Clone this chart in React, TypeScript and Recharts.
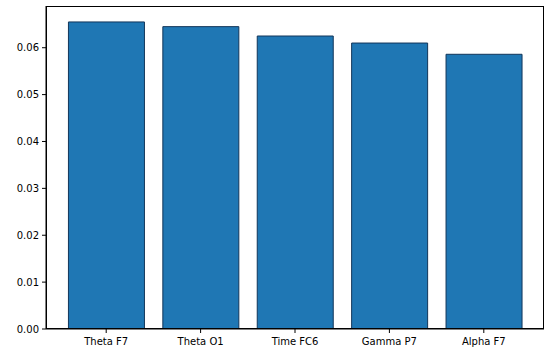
import { BarChart, Bar, XAxis, YAxis } from 'recharts';

const features = ['Theta F7', 'Theta O1', 'Time FC6', 'Gamma P7', 'Alpha F7'];
const importance = [0.0655, 0.0645, 0.0625, 0.061, 0.0586];
const yTicks = [0, 0.01, 0.02, 0.03, 0.04, 0.05, 0.06];

const data = features.map((name, i) => ({ name, value: importance[i] }));

const tickStyle = { fontSize: 10, fill: '#000', fontFamily: 'DejaVu Sans' };

export default function App() {
  return (
    <div style={{ position: 'absolute', left: 0, top: 0, width: 550, height: 359, background: '#fff' }}>
      <BarChart
        width={550}
        height={359}
        data={data}
        margin={{ top: 6, right: 6, left: 0, bottom: 0 }}
        barCategoryGap="10%"
      >
        <XAxis
          dataKey="name"
          height={30}
          padding={{ left: 13, right: 13 }}
          tick={tickStyle}
          tickSize={4}
          tickMargin={5}
          axisLine={{ stroke: '#000' }}
          tickLine={{ stroke: '#000' }}
          interval={0}
        />
        <YAxis
          width={46}
          domain={[0, 0.0689]}
          ticks={yTicks}
          tickFormatter={(v: number) => v.toFixed(2)}
          tick={tickStyle}
          tickSize={4}
          tickMargin={3}
          axisLine={{ stroke: '#000' }}
          tickLine={{ stroke: '#000' }}
          allowDataOverflow
        />
        <Bar dataKey="value" fill="#1f77b4" stroke="#12365a" strokeWidth={1} isAnimationActive={false} />
      </BarChart>
      {/* axes frame (matplotlib-style box) */}
      <div
        style={{
          position: 'absolute',
          left: 45.5,
          top: 5.5,
          width: 498,
          height: 323,
          border: '1px solid #000',
          boxSizing: 'border-box',
          pointerEvents: 'none',
        }}
      />
    </div>
  );
}
